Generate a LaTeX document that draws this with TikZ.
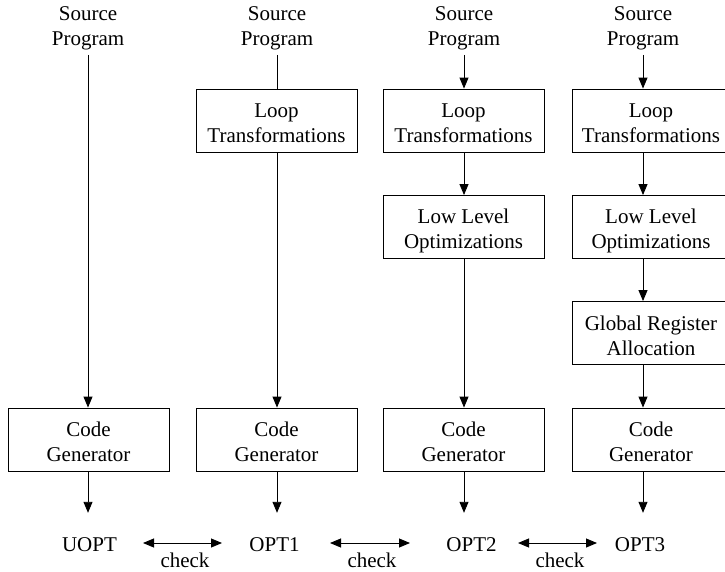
\documentclass[tikz,border=0pt]{standalone}
\usepackage{fontspec}
\setmainfont{Liberation Serif}
\usetikzlibrary{arrows.meta}
\newcommand{\topstrut}{\rule{0pt}{22pt}}
\newcommand{\botstrut}{\rule[-3pt]{0pt}{0pt}}
\begin{document}
\begin{tikzpicture}[x=1pt,y=1pt,
  font=\fontsize{21}{25}\selectfont,
  stagebox/.style={draw, line width=0.9pt, minimum height=63pt, minimum width=161pt, inner sep=0pt, align=center},
  srctext/.style={inner xsep=0pt, inner ysep=5pt, align=center},
  outtext/.style={inner sep=0pt, minimum height=64pt},
  arr/.style={line width=0.9pt, -{Triangle[length=11pt,width=9pt]}},
  darr/.style={line width=0.9pt, {Triangle[length=11pt,width=9pt]}-{Triangle[length=11pt,width=9pt]}},
  plain/.style={line width=0.9pt}]
\useasboundingbox (0,0) rectangle (725,-571);
\clip (0,0) rectangle (725,-571);
% sources
\node[srctext] (src1) at (88,-28) {Source\\Program};
\node[srctext] (src2) at (277,-28) {Source\\Program};
\node[srctext] (src3) at (464,-28) {Source\\Program};
\node[srctext] (src4) at (643,-28) {Source\\Program};
% column 2
\node[stagebox] (lt2) at (276.5,-120.5) {\topstrut Loop\\\botstrut Transformations};
% column 3
\node[stagebox] (lt3) at (463.5,-120.5) {\topstrut Loop\\\botstrut Transformations};
\node[stagebox] (ll3) at (463.5,-227) {\topstrut Low Level\\\botstrut Optimizations};
% column 4
\node[stagebox, minimum width=158pt] (lt4) at (651,-120.5) {\topstrut Loop\\\botstrut Transformations};
\node[stagebox, minimum width=158pt] (ll4) at (651,-227) {\topstrut Low Level\\\botstrut Optimizations};
\node[stagebox, minimum width=158pt] (gr4) at (651,-333) {\topstrut Global Register\\\botstrut Allocation};
% code generators
\node[stagebox] (cg1) at (88.5,-439.5) {\topstrut Code\\\botstrut Generator};
\node[stagebox] (cg2) at (276.5,-439.5) {\topstrut Code\\\botstrut Generator};
\node[stagebox] (cg3) at (463.5,-439.5) {\topstrut Code\\\botstrut Generator};
\node[stagebox, minimum width=158pt] (cg4) at (651,-439.5) {\topstrut Code\\\botstrut Generator};
% outputs
\node[outtext] (o1) at (89.5,-545) {UOPT};
\node[outtext] (o2) at (274.5,-545) {OPT1};
\node[outtext] (o3) at (471.5,-545) {OPT2};
\node[outtext] (o4) at (640,-545) {OPT3};
% check labels
\node[anchor=base, inner sep=0pt] (c1) at (185,-567) {check};
\node[anchor=base, inner sep=0pt] (c2) at (372,-567) {check};
\node[anchor=base, inner sep=0pt] (c3) at (560,-567) {check};
% arrow ends for check arrows
\coordinate (a1l) at (143,-543); \coordinate (a1r) at (222,-543);
\coordinate (a2l) at (330,-543); \coordinate (a2r) at (410,-543);
\coordinate (a3l) at (518,-543); \coordinate (a3r) at (597,-543);
% column 1
\draw[arr] (src1.south) -- (src1 |- cg1.north);
% column 2
\draw[plain] (src2.south) -- (src2 |- lt2.north);
\draw[arr] (src2 |- lt2.south) -- (src2 |- cg2.north);
% column 3
\draw[arr] (src3.south) -- (src3 |- lt3.north);
\draw[arr] (src3 |- lt3.south) -- (src3 |- ll3.north);
\draw[arr] (src3 |- ll3.south) -- (src3 |- cg3.north);
% column 4
\draw[arr] (src4.south) -- (src4 |- lt4.north);
\draw[arr] (src4 |- lt4.south) -- (src4 |- ll4.north);
\draw[arr] (src4 |- ll4.south) -- (src4 |- gr4.north);
\draw[arr] (src4 |- gr4.south) -- (src4 |- cg4.north);
% code generator to outputs
\draw[arr] (src1 |- cg1.south) -- (src1 |- o1.north);
\draw[arr] (src2 |- cg2.south) -- (src2 |- o2.north);
\draw[arr] (src3 |- cg3.south) -- (src3 |- o3.north);
\draw[arr] (src4 |- cg4.south) -- (src4 |- o4.north);
% check arrows
\draw[darr] (a1l) -- (a1r);
\draw[darr] (a2l) -- (a2r);
\draw[darr] (a3l) -- (a3r);
\end{tikzpicture}
\end{document}
